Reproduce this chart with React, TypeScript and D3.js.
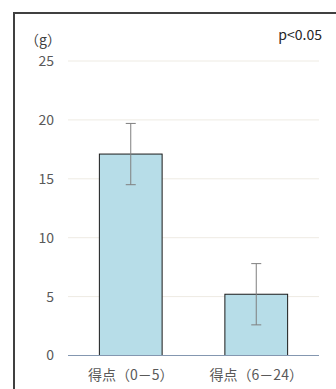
import React from "react";
import * as d3 from "d3";

const categories = ["得点（0－5）", "得点（6－24）"];
const means = [17.1, 5.2];
const errors = [2.6, 2.6];
const yTicks = [0, 5, 10, 15, 20, 25];

export default function App() {
  const W = 336, H = 389;
  const left = 68, right = 319, top = 61, bottom = 355.5;
  const x = d3.scaleBand<string>().domain(categories).range([left, right]).paddingInner(0.5).paddingOuter(0.25);
  const y = d3.scaleLinear().domain([0, 25]).range([bottom, top]);
  const font = "'Noto Sans CJK JP', 'Noto Sans', sans-serif";
  return (
    <svg width={W} height={H} style={{ position: "absolute", left: 0, top: 0 }}>
      <rect x={0} y={0} width={W} height={H} fill="#fff" />
      <rect x={14} y={13} width={W + 50} height={H + 50} fill="#fff" stroke="#404040" strokeWidth={2} />
      {yTicks.map((t) => (
        <g key={t}>
          {t > 0 && <line x1={left} x2={right} y1={y(t)} y2={y(t)} stroke="#eeebe3" strokeWidth={1} />}
          <text x={54} y={y(t)} dy="0.35em" textAnchor="end" fontSize={14} fill="#595959" fontFamily={font}>{t}</text>
        </g>
      ))}
      {categories.map((c, i) => {
        const bx = x(c)!;
        const bw = x.bandwidth();
        const cx = bx + bw / 2;
        return (
          <g key={c}>
            <rect x={bx} y={y(means[i])} width={bw} height={y(0) - y(means[i])} fill="#b7dde8" stroke="#1a1a1a" strokeWidth={1} />
            <line x1={cx} x2={cx} y1={y(means[i] + errors[i])} y2={y(means[i] - errors[i])} stroke="#7f7f7f" strokeWidth={1} />
            <line x1={cx - 5} x2={cx + 5} y1={y(means[i] + errors[i])} y2={y(means[i] + errors[i])} stroke="#7f7f7f" strokeWidth={1} />
            <line x1={cx - 5} x2={cx + 5} y1={y(means[i] - errors[i])} y2={y(means[i] - errors[i])} stroke="#7f7f7f" strokeWidth={1} />
            <text x={cx} y={375} dy="0.35em" textAnchor="middle" fontSize={14} fill="#595959" fontFamily={font}>{c}</text>
          </g>
        );
      })}
      <line x1={left} x2={right} y1={y(0)} y2={y(0)} stroke="#8497b0" strokeWidth={1} />
      <text x={25} y={40} dy="0.35em" fontSize={14} fill="#404040" fontFamily={font}>（g）</text>
      <text x={322} y={35} dy="0.35em" textAnchor="end" fontSize={14} fill="#262626" fontFamily={font}>p&lt;0.05</text>
    </svg>
  );
}
